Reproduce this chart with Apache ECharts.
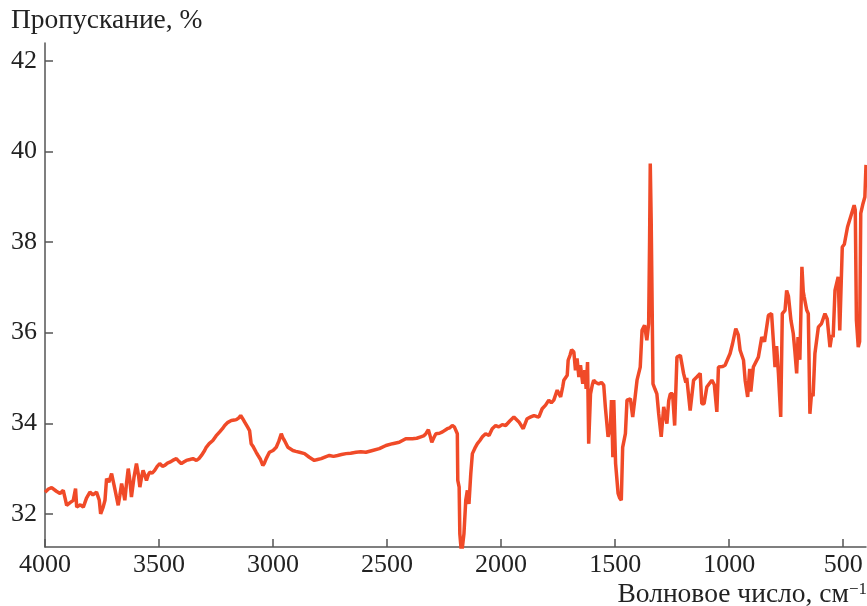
<!DOCTYPE html>
<html>
<head>
<meta charset="utf-8">
<script src="https://cdn.jsdelivr.net/npm/echarts@6/dist/echarts.min.js"></script>
<style>html,body{margin:0;padding:0;background:#fff;}#c{width:867px;height:606px;}</style>
</head>
<body>
<div id="c"></div>
<script>
const wavenumbers = [4000,3985,3971,3950,3934,3920,3912,3905,3890,3876,3868,3866,3861,3845,3832,3818,3803,3790,3774,3762,3756,3745,3737,3730,3720,3708,3694,3679,3672,3664,3657,3650,3642,3635,3628,3621,3610,3599,3590,3584,3577,3570,3562,3555,3548,3541,3530,3519,3508,3497,3485,3475,3463,3453,3440,3424,3413,3402,3390,3380,3365,3351,3336,3325,3314,3300,3293,3280,3264,3250,3234,3222,3212,3198,3183,3170,3161,3150,3142,3133,3125,3112,3103,3096,3089,3074,3067,3055,3045,3038,3030,3016,3000,2986,2975,2964,2957,2950,2935,2913,2900,2884,2862,2841,2819,2805,2789,2770,2753,2735,2717,2700,2680,2660,2636,2615,2593,2564,2534,2505,2476,2447,2418,2389,2370,2352,2340,2330,2319,2310,2304,2295,2286,2270,2257,2236,2225,2214,2205,2199,2192,2190,2184,2181,2175,2170,2163,2155,2148,2141,2133,2126,2115,2104,2093,2082,2068,2053,2039,2024,2010,1995,1980,1962,1944,1932,1922,1903,1886,1870,1856,1845,1834,1820,1805,1791,1780,1769,1754,1739,1730,1725,1710,1706,1698,1691,1681,1674,1667,1659,1652,1642,1633,1627,1621,1616,1608,1600,1594,1585,1572,1560,1550,1543,1531,1521,1516,1510,1506,1498,1487,1480,1473,1467,1455,1448,1440,1433,1423,1414,1404,1390,1382,1371,1361,1353,1349,1346,1342,1339,1334,1325,1317,1309,1298,1287,1273,1265,1258,1248,1239,1229,1214,1200,1190,1186,1171,1156,1142,1127,1120,1110,1098,1076,1065,1054,1047,1030,1018,996,985,971,960,952,937,930,919,910,905,894,872,857,845,828,814,806,799,792,784,774,767,755,748,740,729,719,712,704,698,690,681,675,671,660,653,646,639,632,624,609,595,580,570,558,550,544,536,522,515,504,495,481,463,452,447,442,434,428,423,413,405,400];
const transmittance = [32.48,32.55,32.58,32.50,32.45,32.52,32.35,32.19,32.25,32.30,32.30,32.56,32.15,32.20,32.15,32.35,32.48,32.42,32.48,32.30,32.00,32.15,32.30,32.78,32.70,32.89,32.56,32.19,32.40,32.67,32.50,32.30,32.70,33.00,32.75,32.37,32.80,33.11,32.85,32.59,32.80,32.96,32.85,32.74,32.85,32.92,32.90,32.96,33.05,33.11,33.05,33.07,33.12,33.14,33.18,33.22,33.16,33.11,33.15,33.18,33.20,33.22,33.18,33.22,33.29,33.40,33.47,33.55,33.62,33.72,33.81,33.88,33.95,34.02,34.06,34.07,34.08,34.12,34.17,34.10,34.03,33.92,33.84,33.55,33.50,33.36,33.30,33.20,33.07,33.12,33.22,33.36,33.40,33.47,33.60,33.77,33.68,33.62,33.47,33.40,33.38,33.36,33.33,33.25,33.18,33.20,33.22,33.26,33.29,33.27,33.29,33.31,33.33,33.34,33.36,33.37,33.36,33.40,33.44,33.51,33.55,33.58,33.66,33.66,33.67,33.70,33.72,33.77,33.86,33.70,33.58,33.68,33.77,33.78,33.81,33.88,33.90,33.95,33.92,33.88,33.77,32.74,32.59,31.56,31.20,31.25,31.56,32.30,32.52,32.22,32.89,33.33,33.45,33.55,33.62,33.70,33.77,33.73,33.88,33.95,33.92,33.97,33.95,34.05,34.14,34.08,34.03,33.88,34.10,34.14,34.17,34.15,34.14,34.32,34.40,34.51,34.45,34.51,34.73,34.58,34.80,34.95,35.06,35.39,35.50,35.62,35.57,35.17,35.43,35.02,35.28,34.87,35.17,34.76,35.35,33.55,34.65,34.85,34.95,34.90,34.87,34.90,34.84,34.36,33.70,33.92,34.51,33.25,34.51,33.11,32.45,32.35,32.30,33.47,33.77,34.51,34.50,34.54,34.14,34.51,34.95,35.24,36.05,36.16,35.83,36.20,38.00,39.73,38.50,37.15,34.87,34.75,34.65,34.21,33.70,34.36,33.99,34.50,34.65,34.65,33.95,35.46,35.50,35.10,34.90,35.00,34.28,34.95,35.02,35.10,34.43,34.43,34.80,34.95,34.85,34.25,35.24,35.25,35.28,35.54,35.76,36.09,35.95,35.61,35.39,34.95,34.58,35.20,34.70,35.24,35.46,35.90,35.80,36.38,36.42,35.80,35.24,35.70,35.10,34.14,36.42,36.49,36.93,36.80,36.27,35.98,35.60,35.10,35.90,35.40,37.45,36.90,36.79,36.50,36.42,34.21,34.65,34.60,35.54,36.12,36.20,36.42,36.30,35.68,35.95,35.90,36.93,37.23,36.05,37.89,37.95,38.33,38.63,38.81,38.70,36.27,35.68,35.80,38.63,38.85,38.99,39.70];
const xTickValues = [4000,3500,3000,2500,2000,1500,1000,500];
const yTickValues = [32,34,36,38,40,42];
const yTitle = 'Пропускание, %';
const xTitle = 'Волновое число, см';

const data = wavenumbers.map((w, i) => [w, transmittance[i]]);
const chart = echarts.init(document.getElementById('c'), null, {renderer: 'canvas'});
const font = '"Liberation Serif", "Times New Roman", serif';
const axisColor = '#555';
chart.setOption({
  animation: false,
  backgroundColor: '#fff',
  grid: {left: 45, right: 1, top: 43, bottom: 59, containLabel: false},
  xAxis: {
    type: 'value', inverse: true, min: 400, max: 4000,
    axisLine: {show: true, onZero: false, lineStyle: {color: axisColor, width: 1.5}},
    axisTick: {show: true, inside: true, length: 8, customValues: xTickValues, lineStyle: {color: axisColor, width: 1.5}},
    axisLabel: {customValues: xTickValues, formatter: v => String(v), color: '#222', fontFamily: font, fontSize: 26, margin: 5, showMinLabel: true, showMaxLabel: true},
    splitLine: {show: false}
  },
  yAxis: {
    type: 'value', min: 31.27, max: 42.39,
    axisLine: {show: true, onZero: false, lineStyle: {color: axisColor, width: 1.5}},
    axisTick: {show: true, inside: true, length: 8, customValues: yTickValues, lineStyle: {color: axisColor, width: 1.5}},
    axisLabel: {customValues: yTickValues, formatter: v => String(v), color: '#222', fontFamily: font, fontSize: 26, margin: 8},
    splitLine: {show: false}
  },
  graphic: [
    {type: 'text', left: 11, top: 7, style: {text: yTitle, fontFamily: font, fontSize: 27.5, fill: '#222'}},
    {type: 'text', right: 0, top: 581, style: {
      text: '{a|' + xTitle + '}{b|−1}', fill: '#222',
      rich: {a: {fontFamily: font, fontSize: 27.5, fill: '#222', verticalAlign: 'bottom'}, b: {fontFamily: font, fontSize: 17, fill: '#222', verticalAlign: 'top'}}
    }}
  ],
  series: [{
    type: 'line', data: data, showSymbol: false, symbol: 'none',
    lineStyle: {color: '#f04a28', width: 3.5}, clip: true
  }]
});
</script>
</body>
</html>
